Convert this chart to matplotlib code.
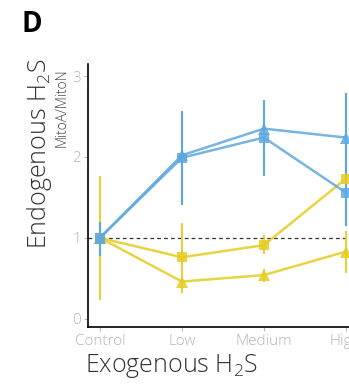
import matplotlib
matplotlib.use("Agg")
import matplotlib.pyplot as plt
import numpy as np

plt.rcParams['font.family'] = ['Open Sans', 'DejaVu Sans']
plt.rcParams['font.weight'] = 'light'
plt.rcParams['mathtext.fontset'] = 'custom'
plt.rcParams['mathtext.rm'] = 'Open Sans:light'
plt.rcParams['mathtext.it'] = 'Open Sans:italic:light'

categories = ["Control", "Low", "Medium", "High"]

blue_tri = [1.0, 2.02, 2.35, 2.24]
blue_tri_lo = [0.78, 1.41, 1.77, 1.15]
blue_tri_hi = [1.20, 2.57, 2.71, 2.79]
blue_sq = [1.0, 1.99, 2.24, 1.56]

yel_sq = [1.0, 0.76, 0.91, 1.73]
yel_sq_lo = [0.23, 0.60, 0.80, 1.60]
yel_sq_hi = [1.77, 1.18, 1.03, 1.85]
yel_tri = [1.0, 0.46, 0.54, 0.83]
yel_tri_lo = [1.0, 0.32, 0.46, 0.56]
yel_tri_hi = [1.0, 0.60, 0.62, 1.09]

yticks = [0, 1, 2, 3]

BLUE = "#5fa8de"
YEL = "#e6cc22"

fig = plt.figure(figsize=(3.49, 3.85), dpi=100)
ax = fig.add_axes([0.252, 0.151, 0.774, 0.683])
x = np.arange(len(categories))

def draw(vals, lo, hi, color, marker, ms):
    vals = np.array(vals); lo = np.array(lo); hi = np.array(hi)
    ax.vlines(x, lo, hi, color=color, lw=1.5, alpha=0.9, zorder=2)
    ax.plot(x, vals, color=color, lw=1.8, alpha=0.85, marker=marker, ms=ms,
            markeredgewidth=0, zorder=3)

ax.axhline(1, color="#333333", lw=0.9, ls=(0, (3, 2.5)), zorder=1)
draw(yel_sq, yel_sq_lo, yel_sq_hi, YEL, "s", 7.5)
draw(yel_tri, yel_tri_lo, yel_tri_hi, YEL, "^", 8)
draw(blue_sq, blue_tri_lo, blue_tri_hi, BLUE, "s", 7.5)
draw(blue_tri, blue_tri_lo, blue_tri_hi, BLUE, "^", 8)

ax.set_xlim(-0.146, 3.15)
ax.set_ylim(-0.1, 3.15)
ax.set_xticks(x)
ax.set_xticklabels(categories)
ax.set_yticks(yticks)
ax.set_yticklabels([str(t) for t in yticks])
for s in ["top", "right"]:
    ax.spines[s].set_visible(False)
for s in ["left", "bottom"]:
    ax.spines[s].set_color("black")
    ax.spines[s].set_linewidth(1.2)
ax.tick_params(axis="both", colors="#bbbbbb", labelsize=11, length=3, width=0.8, pad=2)
ax.tick_params(axis="both", labelcolor="#b5b5b5")

fig.text(0.243, 0.012, r"Exogenous H$_\mathregular{2}$S", fontsize=18, color="#333333",
         ha="left", va="bottom")
fig.text(0.112, 0.6, r"Endogenous H$_\mathregular{2}$S", fontsize=18, color="#333333",
         rotation=90, ha="center", va="center")
fig.text(0.178, 0.72, "MitoA/MitoN", fontsize=10, color="#444444",
         rotation=90, ha="center", va="center")
fig.text(0.063, 0.975, "D", fontsize=20, fontweight="bold", color="black",
         ha="left", va="top")

fig.savefig("out.png", dpi=100)
